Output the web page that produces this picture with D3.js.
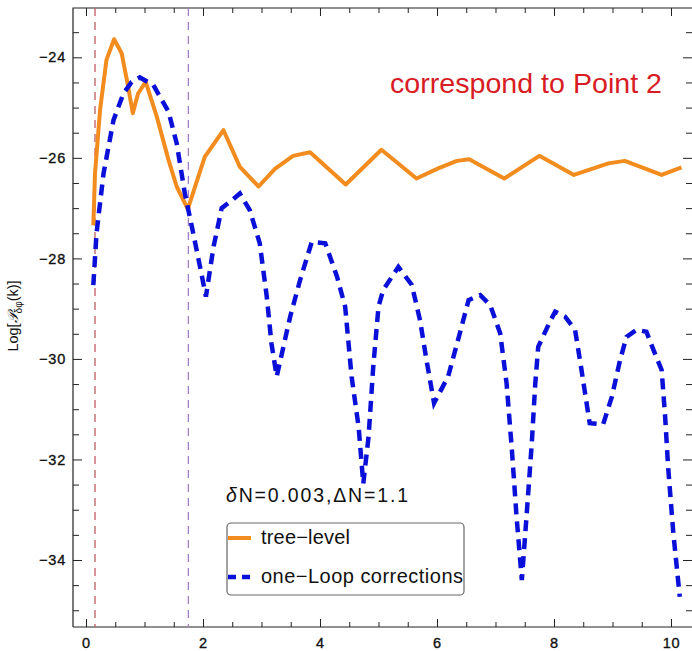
<!DOCTYPE html>
<meta charset="UTF-8">
<style>
  body { margin: 0; background: #fff; }
  text { font-family: "Liberation Sans", Arial, sans-serif; }
  .tick text { font-size: 14.5px; fill: #111; stroke: #111; stroke-width: 0.35px; letter-spacing: 0.8px; }
  .tick line { stroke: #222; stroke-width: 1px; }
  .frame { stroke: #222; stroke-width: 1.2px; fill: none; }
</style>
<body>
<script src="https://cdn.jsdelivr.net/npm/d3@7/dist/d3.min.js"></script>
<script>

// tree-level curve (x, log P)
var treeX = [0.125, 0.154, 0.24, 0.35, 0.48, 0.61, 0.71, 0.80, 0.89, 1.02, 1.21, 1.41, 1.55, 1.74,
             2.03, 2.35, 2.63, 2.95, 3.23, 3.54, 3.83, 4.44, 5.05, 5.65, 6.02, 6.34, 6.55,
             7.15, 7.75, 8.34, 8.93, 9.21, 9.84, 10.18];
var treeY = [-27.34, -26.31, -25.05, -24.05, -23.64, -23.92, -24.52, -25.11, -24.72, -24.49, -25.18, -26.04, -26.57, -27.02,
             -25.98, -25.45, -26.18, -26.57, -26.22, -25.96, -25.89, -26.53, -25.84, -26.41, -26.21, -26.06, -26.03,
             -26.41, -25.96, -26.34, -26.11, -26.06, -26.34, -26.19];

// one-loop corrections curve
var loopX = [0.125, 0.18, 0.30, 0.47, 0.64, 0.78, 0.92, 1.15, 1.41, 1.55, 1.69, 1.81, 1.95, 2.05, 2.18, 2.32, 2.52,
             2.63, 2.80, 2.97, 3.09, 3.17, 3.26, 3.49, 3.66, 3.86, 4.09, 4.29, 4.43, 4.54, 4.66, 4.74,
             4.83, 4.91, 5.00, 5.08, 5.34, 5.57, 5.71, 5.82, 5.95, 6.19, 6.36, 6.54, 6.74, 6.91, 7.08,
             7.19, 7.28, 7.36, 7.45, 7.53, 7.62, 7.68, 7.73, 7.93, 8.02, 8.19, 8.36, 8.47, 8.61, 8.84,
             8.99, 9.13, 9.24, 9.41, 9.58, 9.70, 9.84, 9.90, 9.95, 10.04, 10.15];
var loopY = [-28.53, -27.5, -26.31, -25.25, -24.72, -24.49, -24.40, -24.55, -25.08, -25.71, -26.71, -27.37, -28.17, -28.76, -27.77, -27.0, -26.82,
             -26.71, -27.04, -27.70, -28.76, -29.69, -30.35, -29.16, -28.43, -27.67, -27.70, -28.36, -28.96, -30.35, -31.35, -32.48,
             -31.55, -30.16, -28.96, -28.63, -28.17, -28.53, -29.23, -30.02, -30.88, -30.35, -29.62, -28.83, -28.73, -28.93, -29.49,
             -30.49, -31.81, -33.14, -34.40, -33.14, -31.68, -30.49, -29.76, -29.26, -29.06, -29.16, -29.42, -30.22, -31.28, -31.30,
             -30.75, -30.02, -29.56, -29.42, -29.46, -29.82, -30.22, -31.15, -32.14, -33.47, -34.73];

// vertical reference lines
var vlineX = [0.154, 1.75];
var vlineColor = ["#bf5a62", "#a47ec4"];

var xMajor = [0, 2, 4, 6, 8, 10];
var yMajor = [-24, -26, -28, -30, -32, -34];

var width = 692, height = 651;
var plot = {left: 73, right: 692, top: 8, bottom: 627};

var svg = d3.select("body").append("svg")
    .attr("width", width)
    .attr("height", height);

var x = d3.scaleLinear().domain([-0.2222, 10.359]).range([plot.left, plot.right]);
var y = d3.scaleLinear().domain([-23.019, -35.333]).range([plot.top, plot.bottom]);

var xMinor = d3.range(0, 10.3, 0.5).filter(function(d) { return d % 2 !== 0; });
var yMinor = d3.range(-23.5, -35.3, -0.5).filter(function(d) { return d % 2 !== 0; });

// axes, ticks pointing inward
function axisGroup(axis, tx, ty, labels) {
  var g = svg.append("g").attr("transform", "translate(" + tx + "," + ty + ")").call(axis);
  g.select(".domain").remove();
  if (!labels) g.selectAll("text").remove();
  return g;
}

axisGroup(d3.axisBottom(x).tickValues(xMajor).tickSize(-8).tickPadding(11).tickFormat(d3.format("d")), 0, plot.bottom, true);
axisGroup(d3.axisBottom(x).tickValues(xMinor).tickSize(-5), 0, plot.bottom, false);
axisGroup(d3.axisTop(x).tickValues(xMajor).tickSize(-8), 0, plot.top, false);
axisGroup(d3.axisTop(x).tickValues(xMinor).tickSize(-5), 0, plot.top, false);

axisGroup(d3.axisLeft(y).tickValues(yMajor).tickSize(-9).tickPadding(7).tickFormat(d3.format("d")), plot.left, 0, true);
axisGroup(d3.axisLeft(y).tickValues(yMinor).tickSize(-6), plot.left, 0, false);
axisGroup(d3.axisRight(y).tickValues(yMajor).tickSize(-9), plot.right, 0, false);
axisGroup(d3.axisRight(y).tickValues(yMinor).tickSize(-6), plot.right, 0, false);

// frame
svg.append("path").attr("class", "frame")
  .attr("d", "M" + plot.left + "," + plot.bottom + "V" + plot.top + "H" + plot.right +
             "M" + plot.left + "," + plot.bottom + "H" + plot.right);

// dashed vertical markers
svg.selectAll("line.vline").data(vlineX).enter().append("line")
  .attr("class", "vline")
  .attr("x1", function(d) { return x(d); })
  .attr("x2", function(d) { return x(d); })
  .attr("y1", plot.top)
  .attr("y2", plot.bottom)
  .attr("stroke", function(d, i) { return vlineColor[i]; })
  .attr("stroke-width", 1.3)
  .attr("stroke-dasharray", "8,6");

var line = d3.line()
  .x(function(d) { return x(d[0]); })
  .y(function(d) { return y(d[1]); });

svg.append("path")
  .datum(d3.zip(treeX, treeY))
  .attr("fill", "none")
  .attr("stroke", "#f28c1e")
  .attr("stroke-width", 4)
  .attr("stroke-linejoin", "round")
  .attr("d", line);

svg.append("path")
  .datum(d3.zip(loopX, loopY))
  .attr("fill", "none")
  .attr("stroke", "#0a10d8")
  .attr("stroke-width", 4.5)
  .attr("stroke-dasharray", "11,7")
  .attr("d", line);

// title and annotation
svg.append("text")
  .attr("x", 390).attr("y", 93)
  .attr("font-size", 28)
  .attr("fill", "#d81c24")
  .attr("textLength", 272)
  .attr("lengthAdjust", "spacingAndGlyphs")
  .text("correspond to Point 2");

var note = svg.append("text")
  .attr("x", 226).attr("y", 502)
  .attr("font-size", 19.5)
  .attr("fill", "#111")
  .attr("textLength", 182)
  .attr("lengthAdjust", "spacing");
note.append("tspan").attr("font-style", "italic").text("δ");
note.append("tspan").text("N=0.003,ΔN=1.1");

// y label
var ylab = svg.append("text")
  .attr("transform", "translate(18,316) rotate(-90)")
  .attr("text-anchor", "middle")
  .attr("font-size", 14.5)
  .attr("fill", "#111");
ylab.append("tspan").text("Log[");
ylab.append("tspan").attr("font-style", "italic").attr("font-family", "DejaVu Serif").text("𝒫");
ylab.append("tspan").attr("font-size", 10).attr("dy", 4).text("δφ");
ylab.append("tspan").attr("dy", -4).text("(k)]");

// legend
var legend = svg.append("g");
legend.append("rect")
  .attr("x", 227).attr("y", 523)
  .attr("width", 237).attr("height", 72)
  .attr("rx", 4)
  .attr("fill", "#fff")
  .attr("stroke", "#666")
  .attr("stroke-width", 1.2);

var legendItems = ["tree\u2212level", "one\u2212Loop corrections"];
var legendColor = ["#f28c1e", "#0a10d8"];
var legendDash = ["none", "8,6"];
var legendLen = [89, 202];

legendItems.forEach(function(name, i) {
  var ly = 538 + i * 39;
  legend.append("line")
    .attr("x1", 228).attr("x2", 251)
    .attr("y1", ly).attr("y2", ly)
    .attr("stroke", legendColor[i])
    .attr("stroke-width", i ? 4.5 : 4)
    .attr("stroke-dasharray", legendDash[i]);
  legend.append("text")
    .attr("x", 261).attr("y", ly + 6)
    .attr("font-size", 20)
    .attr("fill", "#111")
    .attr("textLength", legendLen[i])
    .attr("lengthAdjust", "spacing")
    .text(name);
});

</script>
</body>
